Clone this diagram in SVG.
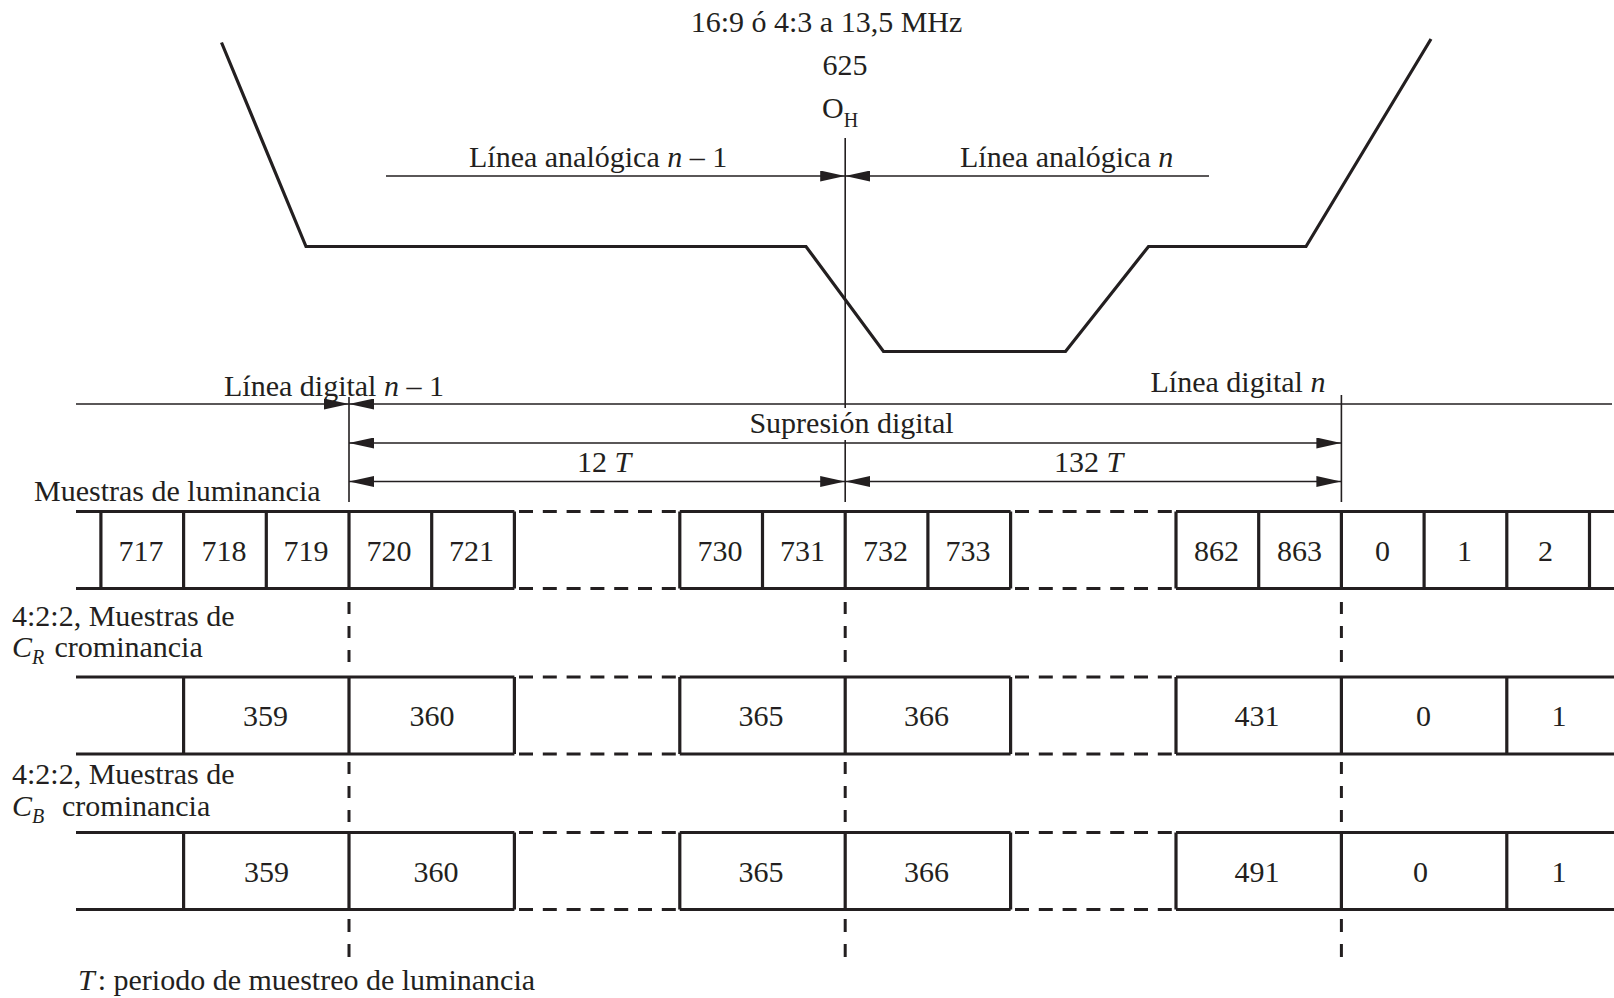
<svg xmlns="http://www.w3.org/2000/svg" width="1614" height="998" viewBox="0 0 1614 998">
<style>
  .t { font-family: "Liberation Serif", "Times New Roman", serif; font-size: 30px; fill: #231f20; }
  .c { text-anchor: middle; }
  .i { font-style: italic; }
  .sub { font-size: 20px; }
  .thin { stroke: #231f20; stroke-width: 1.6; fill: none; }
  .thick { stroke: #231f20; stroke-width: 3.2; fill: none; stroke-linejoin: miter; }
  .dash { stroke: #231f20; stroke-width: 3.2; fill: none; stroke-dasharray: 14 9.8; }
  .vdash { stroke: #231f20; stroke-width: 3; fill: none; stroke-dasharray: 12 12; }
  .arr { marker-end: url(#ah); }
  .arr2 { marker-start: url(#ah); marker-end: url(#ah); }
</style>
<defs>
  <marker id="ah" viewBox="0 0 25 11" refX="25" refY="5.5" markerWidth="25" markerHeight="11" markerUnits="userSpaceOnUse" orient="auto-start-reverse">
    <path d="M0,0 L25,5.5 L0,11 Z" fill="#231f20"/>
  </marker>
</defs>
<rect width="1614" height="998" fill="#ffffff"/>

<g id="titles">
  <text class="t c" x="826.5" y="31.5">16:9 ó 4:3 a 13,5 MHz</text>
  <text class="t c" x="845" y="75">625</text>
  <text class="t" x="822" y="118">O<tspan class="sub" dy="9">H</tspan></text>
</g>

<g id="waveform">
  <polyline class="thick" points="221.5,42.5 306,246.5 806,246.5 883.5,351.5 1065.5,351.5 1148.5,246.5 1306,246.5 1431,39"/>
</g>

<g id="labels">
  <text class="t" x="469" y="167">Línea analógica <tspan class="i">n</tspan> – 1</text>
  <text class="t" x="960" y="167">Línea analógica <tspan class="i">n</tspan></text>
  <text class="t" x="224" y="396">Línea digital <tspan class="i">n</tspan> – 1</text>
  <text class="t" x="1150.5" y="392">Línea digital <tspan class="i">n</tspan></text>
  <text class="t c" x="851.5" y="433">Supresión digital</text>
  <text class="t c" x="604" y="472">12 <tspan class="i">T</tspan></text>
  <text class="t c" x="1088.5" y="472">132 <tspan class="i">T</tspan></text>
  <text class="t" x="34" y="501">Muestras de luminancia</text>
  <text class="t" x="12" y="626">4:2:2, Muestras de</text>
  <text class="t" x="12" y="657"><tspan class="i">C</tspan><tspan class="i sub" dy="7">R</tspan></text>
  <text class="t" x="54.5" y="657">crominancia</text>
  <text class="t" x="12" y="784">4:2:2, Muestras de</text>
  <text class="t" x="12" y="816"><tspan class="i">C</tspan><tspan class="i sub" dy="7">B</tspan></text>
  <text class="t" x="62" y="816">crominancia</text>
  <text class="t" x="78" y="990"><tspan class="i">T</tspan><tspan dx="3">: periodo de muestreo de luminancia</tspan></text>
</g>

<g id="connectors">
  <!-- O_H reference line -->
  <line class="thin" x1="845.2" y1="138" x2="845.2" y2="408"/>
  <line class="thin" x1="845.2" y1="440" x2="845.2" y2="502"/>
  <!-- digital line boundaries -->
  <line class="thin" x1="349" y1="397" x2="349" y2="502"/>
  <line class="thin" x1="1341.4" y1="395" x2="1341.4" y2="502"/>
  <!-- analog line arrows -->
  <line class="thin arr" x1="386" y1="176" x2="845.2" y2="176"/>
  <line class="thin arr" x1="1209" y1="176" x2="845.2" y2="176"/>
  <!-- digital line -->
  <line class="thin arr" x1="76" y1="404" x2="349" y2="404"/>
  <line class="thin arr" x1="1612" y1="404" x2="349" y2="404"/>
  <!-- blanking dimension arrows -->
  <line class="thin arr2" x1="349" y1="443" x2="1341.4" y2="443"/>
  <line class="thin arr2" x1="349" y1="481.5" x2="845.2" y2="481.5"/>
  <line class="thin arr2" x1="845.2" y1="481.5" x2="1341.4" y2="481.5"/>
  <!-- dashed alignment verticals -->
  <path class="vdash" d="M349,602 V662 M349,762 V822 M845.2,602 V662 M845.2,762 V822 M1341.4,602 V662 M1341.4,762 V822"/>
  <path class="vdash" style="stroke-dasharray:13 12" d="M349,919 V957 M845.2,919 V957 M1341.4,919 V957"/>
</g>

<g id="luminance-row">
  <path class="thick" d="M76,511.5 H514.4 M76,588.5 H514.4 M679.8,511.5 H1010.6 M679.8,588.5 H1010.6 M1176,511.5 H1614 M1176,588.5 H1614"/>
  <path class="thick" d="M100.9,511.5 V588.5 M183.6,511.5 V588.5 M266.3,511.5 V588.5 M349,511.5 V588.5 M431.7,511.5 V588.5 M514.4,511.5 V588.5 M679.8,511.5 V588.5 M762.5,511.5 V588.5 M845.2,511.5 V588.5 M927.9,511.5 V588.5 M1010.6,511.5 V588.5 M1176,511.5 V588.5 M1258.7,511.5 V588.5 M1341.4,511.5 V588.5 M1424.1,511.5 V588.5 M1506.8,511.5 V588.5 M1589.5,511.5 V588.5"/>
  <path class="dash" d="M519,511.5 H676 M519,588.5 H676 M1015,511.5 H1172 M1015,588.5 H1172"/>
  <text class="t c" x="141" y="561">717</text>
  <text class="t c" x="224" y="561">718</text>
  <text class="t c" x="306" y="561">719</text>
  <text class="t c" x="389" y="561">720</text>
  <text class="t c" x="471.5" y="561">721</text>
  <text class="t c" x="720" y="561">730</text>
  <text class="t c" x="802.5" y="561">731</text>
  <text class="t c" x="885.5" y="561">732</text>
  <text class="t c" x="968" y="561">733</text>
  <text class="t c" x="1216.5" y="561">862</text>
  <text class="t c" x="1299.5" y="561">863</text>
  <text class="t c" x="1382.5" y="561">0</text>
  <text class="t c" x="1464.5" y="561">1</text>
  <text class="t c" x="1545.5" y="561">2</text>
</g>

<g id="cr-row">
  <path class="thick" d="M76,677 H514.4 M76,754 H514.4 M679.8,677 H1010.6 M679.8,754 H1010.6 M1176,677 H1614 M1176,754 H1614"/>
  <path class="thick" d="M183.6,677 V754 M349,677 V754 M514.4,677 V754 M679.8,677 V754 M845.2,677 V754 M1010.6,677 V754 M1176,677 V754 M1341.4,677 V754 M1506.8,677 V754"/>
  <path class="dash" d="M519,677 H676 M519,754 H676 M1015,677 H1172 M1015,754 H1172"/>
  <text class="t c" x="265.5" y="726">359</text>
  <text class="t c" x="432" y="726">360</text>
  <text class="t c" x="761" y="726">365</text>
  <text class="t c" x="926.5" y="726">366</text>
  <text class="t c" x="1257" y="726">431</text>
  <text class="t c" x="1423.5" y="726">0</text>
  <text class="t c" x="1559" y="726">1</text>
</g>

<g id="cb-row">
  <path class="thick" d="M76,832.5 H514.4 M76,909.5 H514.4 M679.8,832.5 H1010.6 M679.8,909.5 H1010.6 M1176,832.5 H1614 M1176,909.5 H1614"/>
  <path class="thick" d="M183.6,832.5 V909.5 M349,832.5 V909.5 M514.4,832.5 V909.5 M679.8,832.5 V909.5 M845.2,832.5 V909.5 M1010.6,832.5 V909.5 M1176,832.5 V909.5 M1341.4,832.5 V909.5 M1506.8,832.5 V909.5"/>
  <path class="dash" d="M519,832.5 H676 M519,909.5 H676 M1015,832.5 H1172 M1015,909.5 H1172"/>
  <text class="t c" x="266.5" y="882">359</text>
  <text class="t c" x="436" y="882">360</text>
  <text class="t c" x="761" y="882">365</text>
  <text class="t c" x="926.5" y="882">366</text>
  <text class="t c" x="1257" y="882">491</text>
  <text class="t c" x="1420.5" y="882">0</text>
  <text class="t c" x="1559" y="882">1</text>
</g>
</svg>
